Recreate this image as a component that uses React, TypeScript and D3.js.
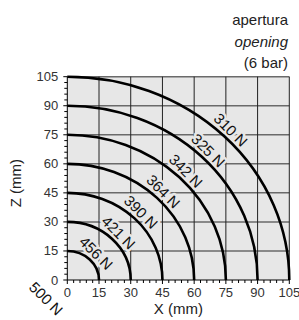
import React from 'react';
import * as d3 from 'd3';

// radius of each curve (mm) and the force written on it
const radii = [15, 30, 45, 60, 75, 90, 105];
const forces = ['456 N', '421 N', '390 N', '364 N', '342 N', '325 N', '310 N'];
const originForce = '500 N';
const ticks = [0, 15, 30, 45, 60, 75, 90, 105];
const titleLines = ['apertura', 'opening', '(6 bar)'];

const W = 299;
const H = 320;
const font = '"Liberation Sans", Arial, sans-serif';
const bg = '#e7e7e7';

export default function App() {
  const x = d3.scaleLinear().domain([0, 105]).range([67.3, 289.3]);
  const y = d3.scaleLinear().domain([0, 105]).range([280, 76.7]);
  const minor = d3.range(0, 105.1, 3).filter(v => v % 15 !== 0);
  const c45 = Math.SQRT1_2;

  const arcPath = (r: number) => {
    const rx = x(r) - x(0);
    const ry = y(0) - y(r);
    return `M${x(r)},${y(0)} A${rx},${ry} 0 0 0 ${x(0)},${y(r)}`;
  };

  return (
    <svg width={W} height={H} style={{position: 'absolute', left: 0, top: 0}} fontFamily={font}>
      <rect x={x(0)} y={y(105)} width={x(105) - x(0)} height={y(0) - y(105)} fill={bg} />

      {/* grid */}
      {ticks.slice(1).map(t => (
        <line key={'h' + t} x1={x(0)} x2={x(105)} y1={y(t)} y2={y(t)} stroke="#6a6a6a" strokeWidth={1.5} />
      ))}
      {ticks.slice(1).map(t => (
        <line key={'v' + t} x1={x(t)} x2={x(t)} y1={y(0)} y2={y(105)} stroke="#222" strokeWidth={1} />
      ))}

      {/* curve labels */}
      {radii.map((r, i) => {
        const px = x(r * c45) + 6.5;
        const py = y(r * c45) - 6.5;
        return (
          <text key={'l' + r} transform={`translate(${px},${py}) rotate(45)`} textAnchor="middle"
            dominantBaseline="central" fontSize={15} fill="#111"
            stroke={bg} strokeWidth={5} paintOrder="stroke" strokeLinejoin="round">
            {forces[i]}
          </text>
        );
      })}

      {/* curves */}
      {radii.map(r => (
        <path key={'a' + r} d={arcPath(r)} fill="none" stroke="#000" strokeWidth={2.6} />
      ))}

      {/* axes */}
      <line x1={x(0)} x2={x(0)} y1={y(0)} y2={y(105)} stroke="#000" strokeWidth={1} />
      <line x1={x(0)} x2={x(105)} y1={y(0)} y2={y(0)} stroke="#000" strokeWidth={1} />
      {ticks.map(t => (
        <g key={'yt' + t}>
          <line x1={x(0) - 4} x2={x(0)} y1={y(t)} y2={y(t)} stroke="#000" />
          <text x={x(0) - 9} y={y(t)} textAnchor="end" dominantBaseline="central" fontSize={13} fill="#333">{t}</text>
        </g>
      ))}
      {minor.map(t => (
        <line key={'ym' + t} x1={x(0) - 3} x2={x(0)} y1={y(t)} y2={y(t)} stroke="#000" />
      ))}
      {ticks.map(t => (
        <g key={'xt' + t}>
          <line x1={x(t)} x2={x(t)} y1={y(0)} y2={y(0) + 4} stroke="#000" />
          <text x={x(t)} y={y(0) + 17} textAnchor="middle" fontSize={13} fill="#333">{t}</text>
        </g>
      ))}
      {minor.map(t => (
        <line key={'xm' + t} x1={x(t)} x2={x(t)} y1={y(0)} y2={y(0) + 3} stroke="#000" />
      ))}

      <text transform={`translate(${x(-10)},${y(-9.5)}) rotate(45)`} textAnchor="middle"
        dominantBaseline="central" fontSize={15} fill="#111">{originForce}</text>

      {/* axis titles */}
      <text x={x(52.5)} y={314} textAnchor="middle" fontSize={15} fill="#222">X (mm)</text>
      <text transform={`translate(21,${y(50)}) rotate(-90)`} textAnchor="middle" fontSize={15} fill="#222">Z (mm)</text>

      {/* title */}
      {titleLines.map((s, i) => (
        <text key={s} x={288} y={25 + i * 21.5} textAnchor="end" fontSize={15} fill="#222"
          fontStyle={i === 1 ? 'italic' : 'normal'}>{s}</text>
      ))}
    </svg>
  );
}
